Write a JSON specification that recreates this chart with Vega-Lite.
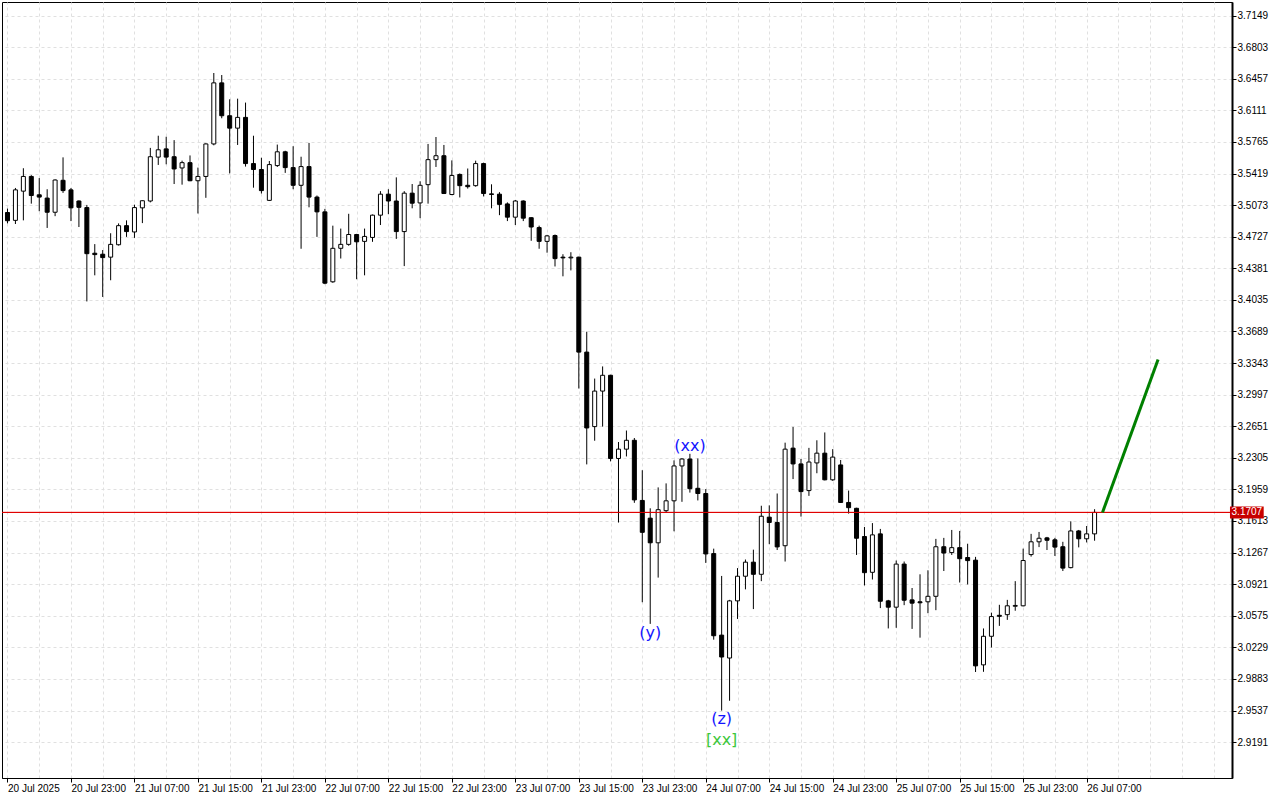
{
"$schema": "https://vega.github.io/schema/vega-lite/v6.json",
"width": 1230, "height": 776,
"autosize": {"type": "none"},
"padding": {"left": 2, "top": 2, "right": 48, "bottom": 22},
"background": "#ffffff",
"config": {"view": {"stroke": "#000000", "strokeWidth": 1}},
"datasets": {
"candles": [
{"t":"2025-07-20T15:00:00Z","open":3.4992,"high":3.5035,"low":3.4873,"close":3.4902},
{"t":"2025-07-20T16:00:00Z","open":3.4906,"high":3.5261,"low":3.4866,"close":3.5240},
{"t":"2025-07-20T17:00:00Z","open":3.5226,"high":3.5477,"low":3.4906,"close":3.5387},
{"t":"2025-07-20T18:00:00Z","open":3.5387,"high":3.5401,"low":3.5089,"close":3.5178},
{"t":"2025-07-20T19:00:00Z","open":3.5186,"high":3.5369,"low":3.5006,"close":3.5161},
{"t":"2025-07-20T20:00:00Z","open":3.5150,"high":3.5247,"low":3.4823,"close":3.4995},
{"t":"2025-07-20T21:00:00Z","open":3.4995,"high":3.5355,"low":3.4952,"close":3.5348},
{"t":"2025-07-20T22:00:00Z","open":3.5345,"high":3.5596,"low":3.5207,"close":3.5232},
{"t":"2025-07-20T23:00:00Z","open":3.5240,"high":3.5261,"low":3.4898,"close":3.5043},
{"t":"2025-07-21T00:00:00Z","open":3.5118,"high":3.5125,"low":3.4833,"close":3.5049},
{"t":"2025-07-21T01:00:00Z","open":3.5046,"high":3.5075,"low":3.4018,"close":3.4541},
{"t":"2025-07-21T02:00:00Z","open":3.4546,"high":3.4646,"low":3.4304,"close":3.4531},
{"t":"2025-07-21T03:00:00Z","open":3.4535,"high":3.4581,"low":3.4067,"close":3.4498},
{"t":"2025-07-21T04:00:00Z","open":3.4503,"high":3.4765,"low":3.4250,"close":3.4643},
{"t":"2025-07-21T05:00:00Z","open":3.4639,"high":3.4873,"low":3.4630,"close":3.4848},
{"t":"2025-07-21T06:00:00Z","open":3.4848,"high":3.4906,"low":3.4725,"close":3.4783},
{"t":"2025-07-21T07:00:00Z","open":3.4779,"high":3.5078,"low":3.4714,"close":3.5046},
{"t":"2025-07-21T08:00:00Z","open":3.5043,"high":3.5125,"low":3.4876,"close":3.5121},
{"t":"2025-07-21T09:00:00Z","open":3.5118,"high":3.5700,"low":3.5103,"close":3.5603},
{"t":"2025-07-21T10:00:00Z","open":3.5599,"high":3.5833,"low":3.5513,"close":3.5679},
{"t":"2025-07-21T11:00:00Z","open":3.5689,"high":3.5822,"low":3.5520,"close":3.5599},
{"t":"2025-07-21T12:00:00Z","open":3.5603,"high":3.5785,"low":3.5304,"close":3.5469},
{"t":"2025-07-21T13:00:00Z","open":3.5480,"high":3.5560,"low":3.5297,"close":3.5538},
{"t":"2025-07-21T14:00:00Z","open":3.5538,"high":3.5617,"low":3.5335,"close":3.5340},
{"t":"2025-07-21T15:00:00Z","open":3.5340,"high":3.5484,"low":3.4981,"close":3.5387},
{"t":"2025-07-21T16:00:00Z","open":3.5387,"high":3.5750,"low":3.5153,"close":3.5743},
{"t":"2025-07-21T17:00:00Z","open":3.5743,"high":3.6520,"low":3.5728,"close":3.6412},
{"t":"2025-07-21T18:00:00Z","open":3.6412,"high":3.6498,"low":3.6024,"close":3.6052},
{"t":"2025-07-21T19:00:00Z","open":3.6052,"high":3.6232,"low":3.5420,"close":3.5916},
{"t":"2025-07-21T20:00:00Z","open":3.5916,"high":3.6239,"low":3.5732,"close":3.6034},
{"t":"2025-07-21T21:00:00Z","open":3.6034,"high":3.6196,"low":3.5495,"close":3.5528},
{"t":"2025-07-21T22:00:00Z","open":3.5528,"high":3.5833,"low":3.5264,"close":3.5463},
{"t":"2025-07-21T23:00:00Z","open":3.5463,"high":3.5592,"low":3.5200,"close":3.5232},
{"t":"2025-07-22T00:00:00Z","open":3.5125,"high":3.5556,"low":3.5118,"close":3.5517},
{"t":"2025-07-22T01:00:00Z","open":3.5506,"high":3.5736,"low":3.5491,"close":3.5657},
{"t":"2025-07-22T02:00:00Z","open":3.5657,"high":3.5668,"low":3.5426,"close":3.5484},
{"t":"2025-07-22T03:00:00Z","open":3.5484,"high":3.5718,"low":3.5247,"close":3.5290},
{"t":"2025-07-22T04:00:00Z","open":3.5290,"high":3.5603,"low":3.4595,"close":3.5495},
{"t":"2025-07-22T05:00:00Z","open":3.5495,"high":3.5754,"low":3.5049,"close":3.5161},
{"t":"2025-07-22T06:00:00Z","open":3.5161,"high":3.5178,"low":3.4725,"close":3.4999},
{"t":"2025-07-22T07:00:00Z","open":3.4999,"high":3.5032,"low":3.4207,"close":3.4218},
{"t":"2025-07-22T08:00:00Z","open":3.4233,"high":3.4848,"low":3.4222,"close":3.4600},
{"t":"2025-07-22T09:00:00Z","open":3.4600,"high":3.4816,"low":3.4488,"close":3.4643},
{"t":"2025-07-22T10:00:00Z","open":3.4643,"high":3.4978,"low":3.4628,"close":3.4751},
{"t":"2025-07-22T11:00:00Z","open":3.4751,"high":3.4758,"low":3.4261,"close":3.4671},
{"t":"2025-07-22T12:00:00Z","open":3.4676,"high":3.4816,"low":3.4304,"close":3.4730},
{"t":"2025-07-22T13:00:00Z","open":3.4719,"high":3.4970,"low":3.4671,"close":3.4963},
{"t":"2025-07-22T14:00:00Z","open":3.4963,"high":3.5226,"low":3.4855,"close":3.5193},
{"t":"2025-07-22T15:00:00Z","open":3.5193,"high":3.5247,"low":3.4974,"close":3.5118},
{"t":"2025-07-22T16:00:00Z","open":3.5118,"high":3.5377,"low":3.4703,"close":3.4783},
{"t":"2025-07-22T17:00:00Z","open":3.4783,"high":3.5226,"low":3.4405,"close":3.5204},
{"t":"2025-07-22T18:00:00Z","open":3.5204,"high":3.5304,"low":3.5038,"close":3.5094},
{"t":"2025-07-22T19:00:00Z","open":3.5097,"high":3.5334,"low":3.4930,"close":3.5290},
{"t":"2025-07-22T20:00:00Z","open":3.5297,"high":3.5743,"low":3.5089,"close":3.5571},
{"t":"2025-07-22T21:00:00Z","open":3.5571,"high":3.5819,"low":3.5491,"close":3.5614},
{"t":"2025-07-22T22:00:00Z","open":3.5614,"high":3.5732,"low":3.5195,"close":3.5200},
{"t":"2025-07-22T23:00:00Z","open":3.5189,"high":3.5563,"low":3.5182,"close":3.5398},
{"t":"2025-07-23T00:00:00Z","open":3.5409,"high":3.5420,"low":3.5157,"close":3.5286},
{"t":"2025-07-23T01:00:00Z","open":3.5290,"high":3.5474,"low":3.5254,"close":3.5275},
{"t":"2025-07-23T02:00:00Z","open":3.5286,"high":3.5560,"low":3.5275,"close":3.5528},
{"t":"2025-07-23T03:00:00Z","open":3.5528,"high":3.5538,"low":3.5168,"close":3.5200},
{"t":"2025-07-23T04:00:00Z","open":3.5196,"high":3.5301,"low":3.5038,"close":3.5190},
{"t":"2025-07-23T05:00:00Z","open":3.5193,"high":3.5215,"low":3.4963,"close":3.5081},
{"t":"2025-07-23T06:00:00Z","open":3.5086,"high":3.5103,"low":3.4898,"close":3.4941},
{"t":"2025-07-23T07:00:00Z","open":3.4941,"high":3.5129,"low":3.4855,"close":3.5118},
{"t":"2025-07-23T08:00:00Z","open":3.5118,"high":3.5125,"low":3.4898,"close":3.4930},
{"t":"2025-07-23T09:00:00Z","open":3.4935,"high":3.4940,"low":3.4682,"close":3.4833},
{"t":"2025-07-23T10:00:00Z","open":3.4827,"high":3.4848,"low":3.4595,"close":3.4676},
{"t":"2025-07-23T11:00:00Z","open":3.4676,"high":3.4747,"low":3.4552,"close":3.4736},
{"t":"2025-07-23T12:00:00Z","open":3.4740,"high":3.4751,"low":3.4401,"close":3.4487},
{"t":"2025-07-23T13:00:00Z","open":3.4503,"high":3.4535,"low":3.4293,"close":3.4495},
{"t":"2025-07-23T14:00:00Z","open":3.4495,"high":3.4557,"low":3.4358,"close":3.4503},
{"t":"2025-07-23T15:00:00Z","open":3.4503,"high":3.4508,"low":3.3064,"close":3.3463},
{"t":"2025-07-23T16:00:00Z","open":3.3463,"high":3.3686,"low":3.2233,"close":3.2632},
{"t":"2025-07-23T17:00:00Z","open":3.2647,"high":3.3173,"low":3.2492,"close":3.3036},
{"t":"2025-07-23T18:00:00Z","open":3.3036,"high":3.3306,"low":3.2647,"close":3.3209},
{"t":"2025-07-23T19:00:00Z","open":3.3209,"high":3.3215,"low":3.2266,"close":3.2298},
{"t":"2025-07-23T20:00:00Z","open":3.2298,"high":3.2478,"low":3.1596,"close":3.2400},
{"t":"2025-07-23T21:00:00Z","open":3.2400,"high":3.2604,"low":3.2320,"close":3.2497},
{"t":"2025-07-23T22:00:00Z","open":3.2497,"high":3.2522,"low":3.1812,"close":3.1844},
{"t":"2025-07-23T23:00:00Z","open":3.1838,"high":3.2169,"low":3.0723,"close":3.1489},
{"t":"2025-07-24T00:00:00Z","open":3.1644,"high":3.1752,"low":3.0486,"close":3.1374},
{"t":"2025-07-24T01:00:00Z","open":3.1374,"high":3.1981,"low":3.0993,"close":3.1737},
{"t":"2025-07-24T02:00:00Z","open":3.1726,"high":3.2025,"low":3.1701,"close":3.1834},
{"t":"2025-07-24T03:00:00Z","open":3.1834,"high":3.2277,"low":3.1500,"close":3.2216},
{"t":"2025-07-24T04:00:00Z","open":3.2216,"high":3.2302,"low":3.1823,"close":3.2292},
{"t":"2025-07-24T05:00:00Z","open":3.2292,"high":3.2349,"low":3.1924,"close":3.1967},
{"t":"2025-07-24T06:00:00Z","open":3.1971,"high":3.2298,"low":3.1838,"close":3.1914},
{"t":"2025-07-24T07:00:00Z","open":3.1914,"high":3.1963,"low":3.1154,"close":3.1252},
{"t":"2025-07-24T08:00:00Z","open":3.1256,"high":3.1310,"low":3.0313,"close":3.0356},
{"t":"2025-07-24T09:00:00Z","open":3.0363,"high":3.1011,"low":2.9536,"close":3.0123},
{"t":"2025-07-24T10:00:00Z","open":3.0112,"high":3.0749,"low":2.9644,"close":3.0738},
{"t":"2025-07-24T11:00:00Z","open":3.0738,"high":3.1097,"low":3.0540,"close":3.1008},
{"t":"2025-07-24T12:00:00Z","open":3.1008,"high":3.1191,"low":3.0864,"close":3.1162},
{"t":"2025-07-24T13:00:00Z","open":3.1162,"high":3.1299,"low":3.0648,"close":3.1029},
{"t":"2025-07-24T14:00:00Z","open":3.1029,"high":3.1780,"low":3.0954,"close":3.1665},
{"t":"2025-07-24T15:00:00Z","open":3.1655,"high":3.1784,"low":3.1359,"close":3.1597},
{"t":"2025-07-24T16:00:00Z","open":3.1597,"high":3.1914,"low":3.1295,"close":3.1329},
{"t":"2025-07-24T17:00:00Z","open":3.1342,"high":3.2471,"low":3.1169,"close":3.2400},
{"t":"2025-07-24T18:00:00Z","open":3.2411,"high":3.2643,"low":3.2072,"close":3.2238},
{"t":"2025-07-24T19:00:00Z","open":3.2238,"high":3.2292,"low":3.1661,"close":3.1935},
{"t":"2025-07-24T20:00:00Z","open":3.1946,"high":3.2414,"low":3.1888,"close":3.2259},
{"t":"2025-07-24T21:00:00Z","open":3.2249,"high":3.2497,"low":3.2136,"close":3.2356},
{"t":"2025-07-24T22:00:00Z","open":3.2356,"high":3.2583,"low":3.2058,"close":3.2064},
{"t":"2025-07-24T23:00:00Z","open":3.2064,"high":3.2400,"low":3.2053,"close":3.2313},
{"t":"2025-07-25T00:00:00Z","open":3.2227,"high":3.2281,"low":3.1810,"close":3.1816},
{"t":"2025-07-25T01:00:00Z","open":3.1816,"high":3.1946,"low":3.1694,"close":3.1759},
{"t":"2025-07-25T02:00:00Z","open":3.1752,"high":3.1758,"low":3.1241,"close":3.1424},
{"t":"2025-07-25T03:00:00Z","open":3.1443,"high":3.1547,"low":3.0907,"close":3.1047},
{"t":"2025-07-25T04:00:00Z","open":3.1051,"high":3.1590,"low":3.0972,"close":3.1461},
{"t":"2025-07-25T05:00:00Z","open":3.1472,"high":3.1526,"low":3.0659,"close":3.0734},
{"t":"2025-07-25T06:00:00Z","open":3.0738,"high":3.0749,"low":3.0436,"close":3.0669},
{"t":"2025-07-25T07:00:00Z","open":3.0669,"high":3.1180,"low":3.0443,"close":3.1141},
{"t":"2025-07-25T08:00:00Z","open":3.1141,"high":3.1169,"low":3.0691,"close":3.0745},
{"t":"2025-07-25T09:00:00Z","open":3.0749,"high":3.0879,"low":3.0431,"close":3.0713},
{"t":"2025-07-25T10:00:00Z","open":3.0728,"high":3.1029,"low":3.0335,"close":3.0717},
{"t":"2025-07-25T11:00:00Z","open":3.0728,"high":3.1073,"low":3.0603,"close":3.0788},
{"t":"2025-07-25T12:00:00Z","open":3.0788,"high":3.1417,"low":3.0636,"close":3.1331},
{"t":"2025-07-25T13:00:00Z","open":3.1331,"high":3.1428,"low":3.1065,"close":3.1262},
{"t":"2025-07-25T14:00:00Z","open":3.1267,"high":3.1515,"low":3.1241,"close":3.1321},
{"t":"2025-07-25T15:00:00Z","open":3.1321,"high":3.1504,"low":3.0939,"close":3.1200},
{"t":"2025-07-25T16:00:00Z","open":3.1213,"high":3.1364,"low":3.0918,"close":3.1179},
{"t":"2025-07-25T17:00:00Z","open":3.1184,"high":3.1220,"low":2.9959,"close":3.0026},
{"t":"2025-07-25T18:00:00Z","open":3.0037,"high":3.0436,"low":2.9961,"close":3.0350},
{"t":"2025-07-25T19:00:00Z","open":3.0350,"high":3.0609,"low":3.0227,"close":3.0566},
{"t":"2025-07-25T20:00:00Z","open":3.0580,"high":3.0695,"low":3.0464,"close":3.0569},
{"t":"2025-07-25T21:00:00Z","open":3.0587,"high":3.0749,"low":3.0530,"close":3.0684},
{"t":"2025-07-25T22:00:00Z","open":3.0679,"high":3.0954,"low":3.0630,"close":3.0688},
{"t":"2025-07-25T23:00:00Z","open":3.0684,"high":3.1310,"low":3.0678,"close":3.1180},
{"t":"2025-07-26T00:00:00Z","open":3.1245,"high":3.1472,"low":3.1223,"close":3.1385},
{"t":"2025-07-26T01:00:00Z","open":3.1385,"high":3.1493,"low":3.1327,"close":3.1424},
{"t":"2025-07-26T02:00:00Z","open":3.1428,"high":3.1439,"low":3.1295,"close":3.1402},
{"t":"2025-07-26T03:00:00Z","open":3.1407,"high":3.1428,"low":3.1230,"close":3.1327},
{"t":"2025-07-26T04:00:00Z","open":3.1331,"high":3.1385,"low":3.1065,"close":3.1097},
{"t":"2025-07-26T05:00:00Z","open":3.1102,"high":3.1609,"low":3.1095,"close":3.1504},
{"t":"2025-07-26T06:00:00Z","open":3.1504,"high":3.1515,"low":3.1324,"close":3.1418},
{"t":"2025-07-26T07:00:00Z","open":3.1418,"high":3.1558,"low":3.1378,"close":3.1472},
{"t":"2025-07-26T08:00:00Z","open":3.1472,"high":3.1742,"low":3.1397,"close":3.1707}
],
"labels": [
{"t":"2025-07-24T00:00:00Z","price":3.0388,"text":"(y)","kind":"wave"},
{"t":"2025-07-24T05:00:00Z","price":3.2435,"text":"(xx)","kind":"wave"},
{"t":"2025-07-24T09:00:00Z","price":2.9444,"text":"(z)","kind":"wave"},
{"t":"2025-07-24T09:00:00Z","price":2.9209,"text":"[xx]","kind":"degree"}
],
"proj": [
{"t":"2025-07-26T09:00:00Z","price":3.1707},
{"t":"2025-07-26T16:00:00Z","price":3.3381}
],
"last": [
{"price":3.1707,"label":"3.1707"}
]
},
"resolve": {"axis": {"x": "independent", "y": "independent"}},
"layer": [
{
"data": {"name": "last"},
"mark": {"type": "rule", "color": "#e00000", "strokeWidth": 1},
"encoding": {
"y": {"field": "price", "type": "quantitative",
 "scale": {"domain": [2.88526, 3.72431], "zero": false, "nice": false},
 "axis": {"orient": "right", "title": null, "format": ".4f",
  "values": [3.7149,3.6803,3.6457,3.6111,3.5765,3.5419,3.5073,3.4727,3.4381,3.4035,3.3689,3.3343,3.2997,3.2651,3.2305,3.1959,3.1613,3.1267,3.0921,3.0575,3.0229,2.9883,2.9537,2.9191],
  "grid": true, "gridColor": "#e0e0e0", "gridDash": [3, 3],
  "tickSize": 4, "tickColor": "#000000", "labelPadding": 1,
  "labelFont": "Liberation Sans", "labelFontSize": 10, "labelColor": "#000000",
  "domain": true, "domainColor": "#000000", "domainWidth": 2,
  "labelOverlap": false, "labelFlush": false, "labelBound": false}}
}
},
{
"data": {"name": "candles"},
"mark": {"type": "rule", "color": "#000000", "strokeWidth": 1, "clip": true},
"encoding": {
"x": {"field": "t", "type": "temporal",
 "scale": {"type": "utc", "domain": [1753023375000, 1753576875000], "nice": false},
 "axis": {"orient": "top", "title": null, "grid": true, "gridColor": "#e0e0e0", "gridDash": [3, 3], "labels": false, "ticks": false, "domain": false,
  "values": [1753023600000,1753038000000,1753052400000,1753066800000,1753081200000,1753095600000,1753110000000,1753124400000,1753138800000,1753153200000,1753167600000,1753182000000,1753196400000,1753210800000,1753225200000,1753239600000,1753254000000,1753268400000,1753282800000,1753297200000,1753311600000,1753326000000,1753340400000,1753354800000,1753369200000,1753383600000,1753398000000,1753412400000,1753426800000,1753441200000,1753455600000,1753470000000,1753484400000,1753498800000,1753513200000,1753527600000,1753542000000,1753556400000,1753570800000]}},
"y": {"field": "low", "type": "quantitative", "axis": null},
"y2": {"field": "high"}
}
},
{
"data": {"name": "candles"},
"mark": {"type": "bar", "width": 4, "stroke": "#000000", "strokeWidth": 1, "clip": true},
"encoding": {
"x": {"field": "t", "type": "temporal",
 "axis": {"orient": "bottom", "title": null, "grid": false,
  "values": [1753023600000,1753052400000,1753081200000,1753110000000,1753138800000,1753167600000,1753196400000,1753225200000,1753254000000,1753282800000,1753311600000,1753340400000,1753369200000,1753398000000,1753426800000,1753455600000,1753484400000,1753513200000],
  "labelExpr": "time(datum.value) == 1753023600000 ? '20 Jul 2025' : utcFormat(datum.value, '%d %b %H:%M')",
  "labelAlign": "left", "labelBaseline": "top", "labelPadding": 1, "labelDx": 0,
  "tickSize": 4, "tickColor": "#000000", "domain": true, "domainColor": "#000000",
  "labelFont": "'Liberation Sans Narrow', 'Liberation Sans', sans-serif", "labelFontSize": 10, "labelColor": "#000000",
  "labelOverlap": false, "labelFlush": false, "labelBound": false}},
"y": {"field": "open", "type": "quantitative", "axis": null},
"y2": {"field": "close"},
"fill": {"condition": {"test": "datum.close >= datum.open", "value": "#ffffff"}, "value": "#000000"}
}
},
{
"data": {"name": "last"},
"mark": {"type": "rule", "color": "#e00000", "strokeWidth": 1},
"encoding": {"y": {"field": "price", "type": "quantitative", "axis": null}}
},
{
"data": {"name": "proj"},
"mark": {"type": "line", "color": "#008000", "strokeWidth": 3},
"encoding": {
"x": {"field": "t", "type": "temporal", "axis": null},
"y": {"field": "price", "type": "quantitative", "axis": null}
}
},
{
"data": {"name": "labels"},
"mark": {"type": "text", "font": "DejaVu Sans", "fontSize": 16, "align": "center", "baseline": "middle"},
"encoding": {
"x": {"field": "t", "type": "temporal", "axis": null},
"y": {"field": "price", "type": "quantitative", "axis": null},
"text": {"field": "text"},
"color": {"field": "kind", "type": "nominal", "scale": {"domain": ["wave", "degree"], "range": ["#1414ff", "#3cc83c"]}, "legend": null}
}
},
{
"data": {"name": "last"},
"mark": {"type": "bar", "height": 12, "color": "#c80000"},
"encoding": {
"x": {"datum": {"year": 2025, "month": 7, "date": 27, "hours": 1, "minutes": 3, "seconds": 45, "utc": true}, "type": "temporal", "axis": null},
"x2": {"datum": {"year": 2025, "month": 7, "date": 27, "hours": 5, "minutes": 18, "seconds": 45, "utc": true}},
"y": {"field": "price", "type": "quantitative", "axis": null}
}
},
{
"data": {"name": "last"},
"mark": {"type": "text", "font": "Liberation Sans", "fontSize": 10, "color": "#ffffff", "align": "center", "baseline": "middle"},
"encoding": {
"x": {"datum": {"year": 2025, "month": 7, "date": 27, "hours": 3, "minutes": 11, "seconds": 15, "utc": true}, "type": "temporal", "axis": null},
"y": {"field": "price", "type": "quantitative", "axis": null},
"text": {"field": "label"}
}
}
]
}
